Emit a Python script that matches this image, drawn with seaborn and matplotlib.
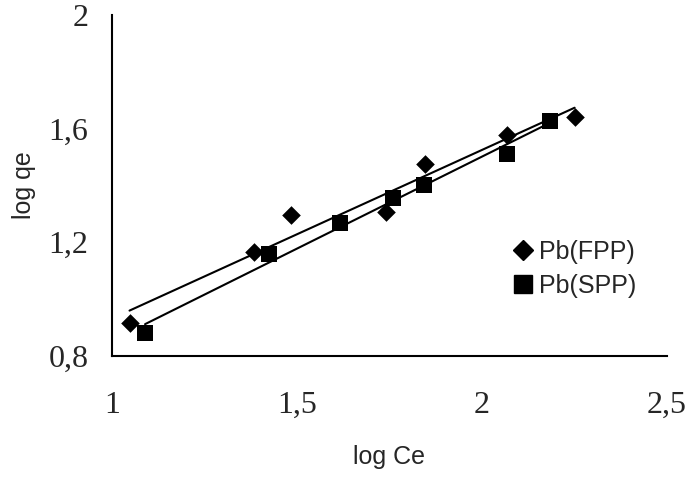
import matplotlib
matplotlib.use('Agg')
import matplotlib.pyplot as plt
import seaborn as sns
from matplotlib.lines import Line2D

# Data
fpp_log_ce = [1.047, 1.384, 1.484, 1.742, 1.846, 2.067, 2.251]
fpp_log_qe = [0.915, 1.167, 1.296, 1.308, 1.475, 1.578, 1.640]
spp_log_ce = [1.089, 1.425, 1.616, 1.759, 1.843, 2.069, 2.184]
spp_log_qe = [0.882, 1.159, 1.267, 1.356, 1.402, 1.510, 1.627]

x_ticks = [1, 1.5, 2, 2.5]
x_tick_labels = ["1", "1,5", "2", "2,5"]
y_ticks = [0.8, 1.2, 1.6, 2.0]
y_tick_labels = ["0,8", "1,2", "1,6", "2"]

sns.set_theme(style="white")
plt.rcParams['font.family'] = ['Liberation Sans', 'DejaVu Sans']

fig = plt.figure(figsize=(6.88, 4.79), dpi=100)
ax = fig.add_axes([0.163, 0.257, 0.806, 0.712])

sns.regplot(x=fpp_log_ce, y=fpp_log_qe, ax=ax, ci=None, marker='D', color='black',
            scatter_kws={'s': 90, 'linewidths': 0, 'alpha': 1}, line_kws={'lw': 1.5})
sns.regplot(x=spp_log_ce, y=spp_log_qe, ax=ax, ci=None, marker='s', color='black',
            scatter_kws={'s': 140, 'linewidths': 0, 'alpha': 1}, line_kws={'lw': 1.5})

ax.set_xlim(1, 2.5)
ax.set_ylim(0.8, 2.0)
ax.set_xticks(x_ticks)
ax.set_xticklabels(x_tick_labels, family='Liberation Serif', fontsize=23)
ax.set_yticks(y_ticks)
ax.set_yticklabels(y_tick_labels, family='Liberation Serif', fontsize=23)

for side in ['top', 'right']:
    ax.spines[side].set_visible(False)
for side in ['left', 'bottom']:
    ax.spines[side].set_color('black')
    ax.spines[side].set_linewidth(1.5)

ax.tick_params(axis='both', direction='out', length=7, width=1.5, color='black')
ax.tick_params(axis='x', pad=18)
ax.tick_params(axis='y', pad=10)

ax.set_xlabel("log Ce", fontsize=18)
ax.set_ylabel("log qe", fontsize=18)
ax.xaxis.set_label_coords(0.5, -0.26)
ax.yaxis.set_label_coords(-0.137, 0.5)

handles = [
    Line2D([], [], marker='D', color='black', linestyle='none', markersize=10),
    Line2D([], [], marker='s', color='black', linestyle='none', markersize=13),
]
ax.legend(handles, ["Pb(FPP)", "Pb(SPP)"], loc='center left',
          bbox_to_anchor=(0.677, 0.255), frameon=False, fontsize=18,
          handlelength=1.0, handletextpad=0.15, labelspacing=0.4)

fig.savefig("out.png", dpi=100)
